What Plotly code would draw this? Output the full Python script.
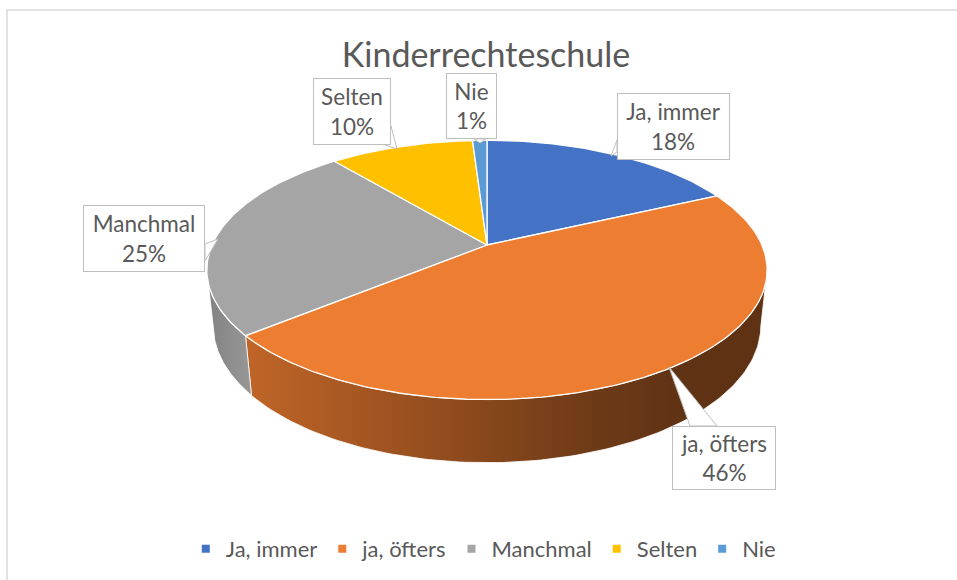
import numpy as np
import plotly.graph_objects as go

# ---------------- data ----------------
title_text = "Kinderrechteschule"
categories = ["Ja, immer", "ja, öfters", "Manchmal", "Selten", "Nie"]
values = [18, 46, 25, 10, 1]          # percent
colors = ["#4472C4", "#ED7D31", "#A5A5A5", "#FFC000", "#5B9BD5"]

# ---------------- layout / style ----------------
W, H_PX = 957, 580
FONT = "Lato"
TXT = "#595959"
CX, CY = 487, 245          # projected centre of the pie (pixels)
PHI = np.radians(27)       # viewing elevation
DIST = 4.63                # camera distance (in radii)
FOC = 1273                 # focal length (pixels)
THICK = 0.228              # pie thickness (in radii)

# label boxes: (x0, y0, x1, y1) and pointer triangles
boxes = [(617, 93, 730, 160), (672, 426, 776, 490), (83, 205, 205, 272),
         (313, 78, 391, 145), (446, 73, 497, 139)]
pointers = [[(617, 140), (611, 156), (617, 152)],
            [(690, 426), (669, 367), (717, 426)],
            [(205, 244), (218, 239), (205, 261)],
            [(391, 126), (397, 149), (385, 145)],
            [(474, 139), (480, 143), (486, 139)]]
side_shades = {1: [(0, 0.81), (0.45, 0.58), (0.67, 0.46), (0.85, 0.40), (1, 0.40)],
               2: [(0, 0.78), (1, 0.92)]}


def project(theta, Y=0.0):
    u = np.sin(theta)
    v = np.cos(theta)
    yc = Y * np.cos(PHI) + v * np.sin(PHI)
    d = DIST + v * np.cos(PHI) - Y * np.sin(PHI)
    return CX + FOC * u / d, CY - FOC * yc / d


def hex_to_rgb(h):
    h = h.lstrip("#")
    return tuple(int(h[i:i + 2], 16) for i in (0, 2, 4))


def shade(h, f):
    r, g, b = hex_to_rgb(h)
    return "rgb(%d,%d,%d)" % (round(r * f), round(g * f), round(b * f))


total = float(sum(values))
fracs = np.array(values) / total
ends = np.cumsum(fracs) * 2 * np.pi
starts = ends - fracs * 2 * np.pi

fig = go.Figure()

# visible outer side (between the silhouette angles)
th_vis = np.arccos(-np.cos(PHI) / DIST)
for i, (a0, a1) in enumerate(zip(starts, ends)):
    a = max(a0, th_vis)
    b = min(a1, 2 * np.pi - th_vis)
    if a >= b:
        continue
    t = np.linspace(a, b, 120)
    xt, yt = project(t, 0.0)
    xb, yb = project(t, -THICK)
    xs = np.concatenate([xt, xb[::-1], xt[:1]])
    ys = np.concatenate([yt, yb[::-1], yt[:1]])
    stops = side_shades.get(i, [(0, 0.7), (1, 0.5)])
    fig.add_trace(go.Scatter(
        x=xs, y=ys, mode="lines", fill="toself",
        line=dict(color="rgba(255,255,255,0.8)", width=1),
        fillgradient=dict(type="horizontal",
                          colorscale=[[p, shade(colors[i], f)] for p, f in stops]),
        hoverinfo="skip", showlegend=False))

# top faces
for i, (a0, a1) in enumerate(zip(starts, ends)):
    n = max(6, int((a1 - a0) / (2 * np.pi) * 400))
    t = np.linspace(a0, a1, n)
    xa, ya = project(t, 0.0)
    xs = np.concatenate([[CX], xa, [CX]])
    ys = np.concatenate([[CY], ya, [CY]])
    fig.add_trace(go.Scatter(
        x=xs, y=ys, mode="lines", fill="toself", fillcolor=colors[i],
        line=dict(color="white", width=1.3),
        hoveron="fills", name=categories[i],
        text="%s: %d%%" % (categories[i], values[i]), hoverinfo="text",
        showlegend=False))

# legend entries
for i, c in enumerate(categories):
    fig.add_trace(go.Scatter(
        x=[None], y=[None], mode="markers", name=c,
        marker=dict(symbol="square", size=8, color=colors[i]),
        showlegend=True))

shapes = [dict(type="rect", xref="x", yref="y", x0=7, y0=10, x1=975, y1=600,
               line=dict(color="#D9D9D9", width=1.5), layer="below")]
for tri in pointers:
    path = "M %s,%s L %s,%s L %s,%s Z" % (tri[0][0], tri[0][1], tri[1][0], tri[1][1],
                                        tri[2][0], tri[2][1])
    shapes.append(dict(type="path", xref="x", yref="y", path=path,
                       fillcolor="white", line=dict(color="#BFBFBF", width=1),
                       layer="above"))

annotations = []
for i, (x0, y0, x1, y1) in enumerate(boxes):
    annotations.append(dict(
        x=(x0 + x1) / 2, y=(y0 + y1) / 2, xref="x", yref="y",
        text="%s<br>%d%%" % (categories[i], round(fracs[i] * 100)),
        showarrow=False, xanchor="center", yanchor="middle",
        width=x1 - x0 - 2, height=y1 - y0 - 2, borderpad=0,
        bgcolor="white", bordercolor="#BFBFBF", borderwidth=1,
        font=dict(family=FONT, size=22.5, color=TXT), align="center"))

fig.update_layout(
    width=W, height=H_PX, autosize=False,
    margin=dict(l=0, r=0, t=0, b=0),
    paper_bgcolor="white", plot_bgcolor="white",
    title=dict(text=title_text, x=486 / W, xanchor="center", y=1 - 55 / H_PX,
               yanchor="middle", yref="container",
               font=dict(family=FONT, size=34, color=TXT)),
    xaxis=dict(range=[0, W], visible=False, fixedrange=True),
    yaxis=dict(range=[H_PX, 0], visible=False, fixedrange=True),
    legend=dict(orientation="h", x=0.505, xanchor="center", y=1 - 549 / H_PX,
                yanchor="middle", font=dict(family=FONT, size=22, color=TXT),
                itemwidth=30, bgcolor="rgba(0,0,0,0)"),
    shapes=shapes, annotations=annotations,
)

fig.write_html("out.html",
               config={"displayModeBar": False},
               post_script="document.body.style.margin='0';"
                           "document.body.style.overflow='hidden';")
